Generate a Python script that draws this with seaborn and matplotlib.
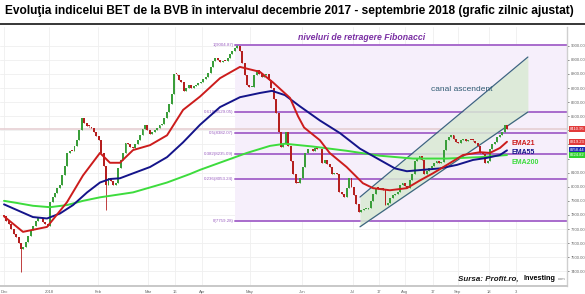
import numpy as np
import pandas as pd
import matplotlib
matplotlib.use("Agg")
import matplotlib.pyplot as plt
from matplotlib.lines import Line2D
import seaborn as sns

# ---------------- data ----------------
first_open = 7800
closes = [
    7790, 7760, 7735, 7700, 7665, 7640, 7600, 7560, 7575, 7610,
    7650, 7690, 7720, 7760, 7775, 7780, 7750, 7735, 7720, 7890,
    7930, 7955, 7990, 8015, 8080, 8150, 8240, 8255, 8250, 8290,
    8330, 8400, 8485, 8450, 8430, 8425, 8415, 8390, 8360, 8330,
    8240, 8150, 8010, 8060, 8040, 8010, 8030, 8130, 8190, 8240,
    8310, 8300, 8285, 8275, 8300, 8330, 8370, 8410, 8435, 8400,
    8375, 8390, 8405, 8420, 8435, 8445, 8490, 8530, 8590, 8660,
    8800, 8795, 8760, 8740, 8680, 8700, 8720, 8700, 8715, 8725,
    8735, 8745, 8765, 8780, 8810, 8850, 8890, 8910, 8900, 8885,
    8895, 8890, 8910, 8945, 8960, 8985, 9000, 8960, 8880, 8790,
    8720, 8705, 8710, 8790, 8825, 8800, 8780, 8790, 8800, 8760,
    8700, 8620, 8520, 8390, 8280, 8300, 8385, 8290, 8180, 8090,
    8030, 8025, 8060, 8140, 8240, 8265, 8270, 8255, 8275, 8265,
    8265, 8170, 8190, 8160, 8140, 8090, 8100, 8090, 7960, 7950,
    7930, 7990, 8060, 8000, 7940, 7880, 7820, 7835, 7840, 7845,
    7850, 7900, 7950, 7990, 7985, 7990, 7980, 7870, 7885, 7920,
    7940, 7950, 7960, 8010, 8030, 8005, 7990, 8050, 8090, 8180,
    8200, 8215, 8190, 8090, 8110, 8130, 8150, 8170, 8180, 8170,
    8175, 8260, 8330, 8350, 8365, 8340, 8320, 8310, 8330, 8340,
    8325, 8335, 8330, 8325, 8310, 8290, 8240, 8230, 8170, 8180,
    8270, 8300, 8320, 8350, 8370, 8385, 8440, 8411,
]
wick_days = [7, 42, 96]
wick_prices = [7395, 7835, 9005]

ema21_day = [0, 7.8, 17.7, 25.9, 32.5, 39.5, 43.6, 47.7, 53.1, 60.1, 67.1, 73.7,
             80.7, 88.9, 97.1, 105.3, 110.7, 117.7, 121, 123.5, 130, 134, 141,
             147.7, 151.9, 158.8, 165.8, 171.2, 176.5, 182.3, 188.9, 195.9, 200,
             204.1, 207]
ema21_val = [7790, 7680, 7715, 7890, 8080, 8240, 8170, 8170, 8260, 8295, 8365, 8545,
             8640, 8770, 8850, 8815, 8740, 8630, 8500, 8420, 8330, 8240, 8140,
             8025, 7990, 7975, 7990, 8045, 8095, 8155, 8225, 8245, 8240,
             8275, 8319]

ema55_day = [0, 5.3, 11.9, 17.7, 23, 28.4, 34.2, 39.5, 43.6, 47.7, 53.1, 60.1, 67.1,
             73.7, 80.7, 88.9, 97.1, 105.3, 110.3, 115.6, 121.8, 130, 138.3, 146.5,
             154.7, 160.9, 165.8, 172.4, 179.4, 186.4, 193, 198.8, 204.1, 207]
ema55_val = [7875, 7835, 7785, 7775, 7810, 7870, 7960, 8030, 8055, 8060, 8095, 8140, 8210,
             8315, 8440, 8565, 8635, 8665, 8680, 8650, 8570, 8470, 8380, 8270,
             8190, 8130, 8110, 8120, 8130, 8155, 8190, 8205, 8225, 8258]

ema200_day = [0, 5.3, 11.9, 18.9, 25.9, 32.5, 39.5, 53.1, 67.1, 76.5, 80.7, 100,
              109.5, 115.6, 127.2, 141, 154.7, 168.3, 182.3, 195.9, 207]
ema200_val = [7900, 7885, 7865, 7855, 7870, 7900, 7925, 7960, 8030, 8090, 8120, 8240,
              8290, 8305, 8285, 8255, 8220, 8200, 8200, 8210, 8225]

fib_ratios = ["1", "0.618", "0.5", "0.382", "0.236", "0"]
fib_values = [9004.87, 8529.05, 8382.07, 8235.09, 8053.24, 7759.28]
fib_start_day = 95

channel_day = [146.5, 215.6]
channel_lower = [7716, 8530]
channel_upper = [7927, 8920]

last_price = 8410.95
tag_values = [8410.95, 8319.23, 8258.44, 8224.82]
tag_colors = ["#e23b3b", "#e23b3b", "#1d2bb0", "#2fd12f"]

tick_days = [0, 18.5, 38.7, 59.3, 70.4, 81.5, 101.2, 122.6, 143.6, 154.3, 165,
             176.5, 186.8, 199.6, 210.7]
tick_labels = ["Dec", "2018", "Feb", "Mar", "16", "Apr", "May", "Jun", "Jul", "17",
               "Aug", "17", "Sep", "18", "3"]
y_ticks = list(range(7400, 9001, 100))
hidden_y_labels = [8400, 8300, 8200]

# ---------------- styling ----------------
sns.set_theme(style="white")
plt.rcParams["font.family"] = ["Liberation Sans", "DejaVu Sans"]

GREEN = "#3a9e3a"
RED = "#b51f1f"
FIB = "#a86bcc"

fig = plt.figure(figsize=(5.85, 2.94), dpi=100)
ax = fig.add_axes([0.0, 1 - 286 / 294, 567 / 585, (286 - 27) / 294])

n = len(closes)
days = np.arange(n)
opens = [first_open] + closes[:-1]
df = pd.DataFrame({"day": days, "open": opens, "close": closes})
df["high"] = df[["open", "close"]].max(axis=1)
df["low"] = df[["open", "close"]].min(axis=1)
for d, p in zip(wick_days, wick_prices):
    if p < df.loc[d, "low"]:
        df.loc[d, "low"] = p
    else:
        df.loc[d, "high"] = p

# grid
for t in tick_days:
    ax.axvline(t, color="#efefef", lw=0.6, zorder=0)
for v in y_ticks:
    ax.axhline(v, color="#efefef", lw=0.6, zorder=0)

# fibonacci shading and lines
ax.fill_between([fib_start_day, 240], fib_values[-1], fib_values[0],
                color="#f6effb", zorder=0.5, lw=0)
for r, v in zip(fib_ratios, fib_values):
    ax.plot([fib_start_day, 240], [v, v], color=FIB, lw=1.4, zorder=1)
    ax.text(fib_start_day - 0.6, v, f"{r}({v:.2f})", color="#9a5fc0",
            fontsize=3.2, ha="right", va="center", zorder=3)

# last price line
ax.axhline(last_price, color="#e6cfd3", lw=1.2, zorder=0.8)

# channel
ax.fill_between(channel_day, channel_lower, channel_upper, color="#d9ead3",
                alpha=0.85, lw=0, zorder=1.2)
ax.plot(channel_day, channel_lower, color="#3d6580", lw=0.9, zorder=1.3)
ax.plot(channel_day, channel_upper, color="#3d6580", lw=0.9, zorder=1.3)

# candles
cols = np.where(df["close"] >= df["open"], GREEN, RED)
ax.vlines(df["day"], df["low"], df["high"], colors=cols, lw=0.6, zorder=4)
heights = (df["close"] - df["open"]).to_numpy(dtype=float)
heights = np.where(np.abs(heights) < 6, 6, heights)
ax.bar(df["day"], heights, bottom=df["open"], width=0.8, color=cols,
       lw=0, zorder=4)

# EMAs
sns.lineplot(x=ema200_day, y=ema200_val, ax=ax, color="#3ddc3d", lw=1.4, zorder=5)
sns.lineplot(x=ema55_day, y=ema55_val, ax=ax, color="#14148a", lw=1.4, zorder=5)
sns.lineplot(x=ema21_day, y=ema21_val, ax=ax, color="#cc1c1c", lw=1.4, zorder=5)

ax.text(209, 8310, "EMA21", color="#cc1c1c", fontsize=5, weight="bold",
        va="center", ha="left", zorder=6)
ax.text(209, 8245, "EMA55", color="#14148a", fontsize=5, weight="bold",
        va="center", ha="left", zorder=6)
ax.text(209, 8175, "EMA200", color="#3ddc3d", fontsize=5, weight="bold",
        va="center", ha="left", zorder=6)

ax.text(147.3, 9055, "niveluri de retragere Fibonacci", color="#7a2fa3",
        fontsize=6.3, weight="bold", style="italic", ha="center", va="center")
ax.text(188.5, 8690, "canal ascendent", color="#2f5a72", fontsize=6.0,
        ha="center", va="center")

# axes
ax.set_xlim(-1.65, 231.7)
ax.set_ylim(7296, 9133)
ax.yaxis.tick_right()
ax.set_yticks(y_ticks)
ax.set_yticklabels(["" if v in hidden_y_labels else f"{v:.2f}" for v in y_ticks])
ax.set_xticks(tick_days)
ax.set_xticklabels(tick_labels)
ax.tick_params(axis="both", labelsize=3, colors="#555555", length=1.5,
               width=0.5, pad=1.5)
ax.tick_params(axis="y", labelcolor="#666666")
ax.tick_params(axis="x", labelcolor="#666666")
for s in ["top", "left"]:
    ax.spines[s].set_visible(False)
ax.spines["right"].set_color("#cfcfcf")
ax.spines["right"].set_linewidth(1.0)
ax.spines["bottom"].set_color("#c8c8c8")
ax.spines["bottom"].set_linewidth(1.4)
ax.set_xlabel("")
ax.set_ylabel("")

# price tags on right axis
for v, c in zip(tag_values, tag_colors):
    ax.annotate(f"{v:.2f}", xy=(1.0, v), xycoords=("axes fraction", "data"),
                xytext=(2, 0), textcoords="offset points", fontsize=3,
                color="white", va="center", ha="left",
                bbox=dict(boxstyle="square,pad=0.25", fc=c, ec="none"),
                annotation_clip=False, zorder=7)

# title and rule
fig.text(0.008, 1 - 11 / 294, "Evoluţia indicelui BET de la BVB în intervalul decembrie 2017 - septembrie 2018 (grafic zilnic ajustat)",
         fontsize=8.6, weight="bold", ha="left", va="center", color="black")
fig.add_artist(Line2D([0, 1], [1 - 23.5 / 294] * 2, color="black", lw=1.1))

# source
fig.text(458 / 585, 1 - 279 / 294, "Sursa: Profit.ro,", fontsize=5.8,
         weight="bold", style="italic", color="#1a1a1a", ha="left", va="center")
fig.text(524 / 585, 1 - 279 / 294, "Investing", fontsize=5.2, weight="bold",
         color="black", ha="left", va="center")
fig.text(558 / 585, 1 - 279.5 / 294, "com", fontsize=3.0, color="#777777",
         ha="left", va="center")

fig.savefig("out.png", dpi=100)
